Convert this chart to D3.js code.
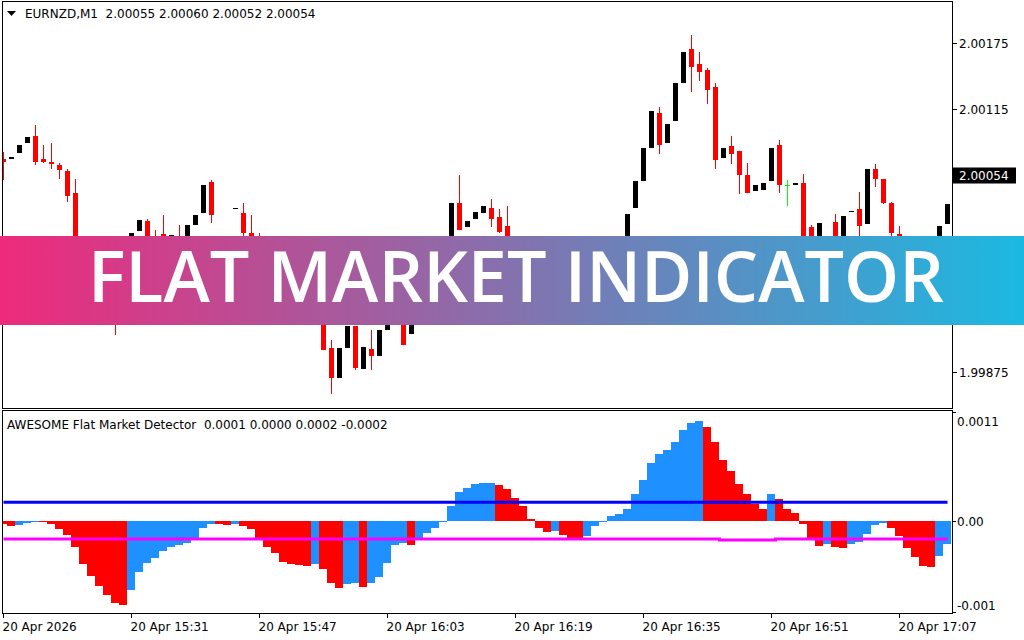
<!DOCTYPE html>
<html><head><meta charset="utf-8">
<script src="https://cdn.jsdelivr.net/npm/d3@7"></script>
<style>html,body{margin:0;padding:0;background:#fff;overflow:hidden}svg{display:block}</style>
</head><body><svg id="c" width="1024" height="640"></svg>
<script>
// ---------------- DATA ----------------
const chartTitle = "EURNZD,M1  2.00055 2.00060 2.00052 2.00054";
const indicatorTitle = "AWESOME Flat Market Detector  0.0001 0.0000 0.0002 -0.0002";
const bannerText = "FLAT MARKET INDICATOR";
const lastPrice = 2.00054;
const lastPriceLabel = "2.00054";

const priceTicks = [2.00175, 2.00115, 2.00055, 1.99995, 1.99935, 1.99875];
const timeTickIndex = [0, 16, 32, 48, 64, 80, 96, 112];
const timeTickLabels = ["20 Apr 2026", "20 Apr 15:31", "20 Apr 15:47", "20 Apr 16:03",
  "20 Apr 16:19", "20 Apr 16:35", "20 Apr 16:51", "20 Apr 17:07"];
const subTickLabels = ["0.0011", "0.00", "-0.001"];

const opens = [2.00069,2.00069,2.00075,2.00084,2.00090,2.00069,2.00067,2.00064,2.00058,2.00038,
1.99975,1.99960,1.99968,1.99945,1.99932,1.99925,1.99960,2.00004,2.00013,1.99998,
2.00001,1.99985,1.99998,1.99985,2.00009,2.00020,2.00048,1.99996,1.99985,2.00024,
2.00020,2.00002,1.99990,1.99972,1.99955,1.99945,1.99930,1.99940,1.99935,1.99928,
1.99945,1.99897,1.99870,1.99897,1.99917,1.99878,1.99896,1.99890,1.99913,1.99935,
1.99945,1.99910,1.99935,1.99950,1.99940,1.99960,1.99975,2.00029,2.00007,2.00015,
2.00020,2.00025,2.00016,2.00008,1.99985,1.99970,1.99960,1.99968,1.99955,1.99948,
1.99962,1.99950,1.99945,1.99958,1.99965,1.99972,1.99968,1.99978,1.99985,2.00025,
2.00049,2.00079,2.00111,2.00084,2.00104,2.00139,2.00170,2.00156,2.00150,2.00135,
2.00070,2.00081,2.00077,2.00055,2.00040,2.00041,2.00049,2.00082,2.00046,2.00046,
2.00047,2.00007,1.99985,1.99995,2.00012,1.99985,2.00021,2.00024,2.00010,2.00060,
2.00051,2.00029,2.00001,1.99985,1.99970,1.99960,1.99968,1.99960,2.00010];
const highs = [2.00076,2.00071,2.00082,2.00089,2.00100,2.00082,2.00084,2.00066,2.00060,2.00051,
1.99978,1.99970,1.99972,1.99950,1.99940,1.99962,2.00002,2.00014,2.00015,2.00005,
2.00018,2.00000,2.00009,2.00009,2.00018,2.00046,2.00050,1.99998,1.99990,2.00025,
2.00029,2.00018,2.00002,1.99978,1.99960,1.99950,1.99945,1.99948,1.99942,1.99950,
1.99950,1.99904,1.99897,1.99917,1.99917,1.99898,1.99913,1.99913,1.99935,1.99955,
1.99950,1.99935,1.99952,1.99955,1.99962,1.99978,2.00029,2.00055,2.00013,2.00021,
2.00026,2.00033,2.00024,2.00026,1.99990,1.99975,1.99972,1.99970,1.99960,1.99965,
1.99966,1.99955,1.99960,1.99968,1.99975,1.99976,1.99980,1.99988,2.00019,2.00049,
2.00079,2.00113,2.00117,2.00101,2.00139,2.00167,2.00182,2.00167,2.00152,2.00139,
2.00079,2.00090,2.00077,2.00066,2.00046,2.00047,2.00079,2.00087,2.00050,2.00047,
2.00056,2.00009,2.00011,1.99998,2.00019,2.00017,2.00022,2.00039,2.00060,2.00065,
2.00051,2.00030,2.00008,1.99990,1.99975,1.99972,1.99975,2.00008,2.00028];
const lows = [2.00050,2.00069,2.00075,2.00084,2.00064,2.00066,2.00060,2.00051,2.00030,1.99968,
1.99955,1.99956,1.99940,1.99926,1.99909,1.99922,1.99955,2.00004,1.99990,1.99980,
1.99978,1.99983,1.99980,1.99983,2.00009,2.00020,2.00011,1.99975,1.99970,2.00024,
1.99990,1.99975,1.99965,1.99950,1.99940,1.99925,1.99925,1.99928,1.99924,1.99924,
1.99895,1.99855,1.99870,1.99897,1.99877,1.99878,1.99877,1.99890,1.99913,1.99930,
1.99900,1.99910,1.99930,1.99935,1.99936,1.99955,1.99970,2.00005,2.00007,2.00015,
2.00020,2.00007,2.00002,1.99980,1.99965,1.99955,1.99956,1.99950,1.99944,1.99945,
1.99946,1.99940,1.99942,1.99955,1.99962,1.99964,1.99966,1.99975,1.99982,2.00025,
2.00049,2.00079,2.00074,2.00084,2.00104,2.00139,2.00130,2.00140,2.00119,2.00060,
2.00070,2.00065,2.00037,2.00038,2.00040,2.00041,2.00049,2.00038,2.00026,2.00046,
1.99985,1.99980,1.99982,1.99975,1.99976,1.99982,2.00021,1.99990,2.00010,2.00044,
2.00028,1.99990,1.99980,1.99965,1.99955,1.99955,1.99956,1.99958,2.00010];
const closes = [2.00067,2.00071,2.00082,2.00089,2.00067,2.00067,2.00065,2.00059,2.00036,1.99975,
1.99960,1.99968,1.99945,1.99930,1.99925,1.99960,2.00002,2.00014,1.99995,1.99985,
1.99985,2.00000,1.99985,2.00009,2.00018,2.00046,2.00018,1.99980,1.99975,2.00025,
2.00002,1.99980,1.99970,1.99955,1.99945,1.99930,1.99940,1.99932,1.99928,1.99945,
1.99895,1.99870,1.99897,1.99917,1.99879,1.99898,1.99890,1.99913,1.99935,1.99950,
1.99900,1.99935,1.99950,1.99940,1.99960,1.99975,2.00029,2.00005,2.00013,2.00021,
2.00026,2.00015,2.00003,1.99985,1.99970,1.99960,1.99968,1.99955,1.99948,1.99962,
1.99950,1.99945,1.99958,1.99965,1.99972,1.99968,1.99978,1.99985,2.00019,2.00049,
2.00079,2.00113,2.00082,2.00101,2.00139,2.00167,2.00153,2.00149,2.00132,2.00068,
2.00079,2.00074,2.00055,2.00038,2.00046,2.00047,2.00079,2.00046,2.00046,2.00047,
1.99990,1.99985,2.00011,1.99980,1.99980,2.00017,2.00022,2.00008,2.00060,2.00051,
2.00029,2.00002,1.99985,1.99970,1.99960,1.99968,1.99960,2.00008,2.00028];

// Flat market detector histogram values
const histValues = [-0.000036,-0.000055,-0.000044,-0.000022,-0.000010,-0.000015,-0.000030,-0.000084,-0.000154,-0.000280,
-0.000470,-0.000600,-0.000710,-0.000810,-0.000895,-0.000920,-0.000760,-0.000560,-0.000460,-0.000406,
-0.000330,-0.000280,-0.000267,-0.000238,-0.000183,-0.000077,-0.000033,-0.000029,-0.000040,-0.000029,
-0.000050,-0.000091,-0.000183,-0.000290,-0.000347,-0.000450,-0.000468,-0.000480,-0.000490,-0.000468,
-0.000530,-0.000676,-0.000730,-0.000687,-0.000680,-0.000720,-0.000676,-0.000610,-0.000457,-0.000260,
-0.000245,-0.000260,-0.000183,-0.000128,-0.000073,-0.000007,0.000164,0.000320,0.000360,0.000406,
0.000417,0.000417,0.000395,0.000350,0.000252,0.000164,0.000026,-0.000073,-0.000117,-0.000106,
-0.000150,-0.000183,-0.000183,-0.000160,-0.000050,-0.000007,0.000055,0.000077,0.000130,0.000296,
0.000450,0.000636,0.000735,0.000780,0.000866,0.000998,0.001075,0.001096,0.001030,0.000866,
0.000669,0.000548,0.000406,0.000296,0.000186,0.000130,0.000296,0.000241,0.000130,0.000088,
-0.000029,-0.000194,-0.000270,-0.000248,-0.000280,-0.000292,-0.000248,-0.000226,-0.000139,-0.000040,
-0.000018,-0.000073,-0.000160,-0.000292,-0.000400,-0.000490,-0.000500,-0.000380,-0.000248];
// bar colour per bar, as runs: b = rising (blue), r = falling (red)
const histColourRuns = [
  ["r", 2], ["b", 3], ["r", 11], ["b", 11], ["r", 2], ["b", 1], ["r", 9], ["b", 1],
  ["r", 3], ["b", 2], ["r", 1], ["b", 5], ["r", 1], ["b", 10], ["r", 7], ["b", 1],
  ["r", 3], ["b", 15], ["r", 8], ["b", 1], ["r", 6], ["b", 1], ["r", 2], ["b", 5],
  ["r", 6], ["b", 2]];

const upperLevel = 0.000208;
const lowerLevelSteps = [{from: 0, value: -0.000194}, {from: 90, value: -0.000205}, {from: 97, value: -0.000194}];

// ---------------- DRAW ----------------
const svg = d3.select("#c");
const FONT = "DejaVu Sans, Verdana, sans-serif";
const n = opens.length;
const idx = d3.range(n);
const histColours = histColourRuns.flatMap(([c, k]) => Array(k).fill(c));

const x = d3.scaleLinear().domain([0, n - 1]).range([3.5, 3.5 + 8 * (n - 1)]);
const yMain = d3.scaleLinear().domain([1.998423, 2.002124]).range([408, 2]);
const ySub = d3.scaleLinear().domain([-0.000995, 0.0011985]).range([612, 412]);

svg.append("rect").attr("width", 1024).attr("height", 640).attr("fill", "#fff");

const defs = svg.append("defs");
defs.append("clipPath").attr("id", "clipMain").append("rect").attr("x", 3).attr("y", 2).attr("width", 949).attr("height", 406);
defs.append("clipPath").attr("id", "clipSub").append("rect").attr("x", 3).attr("y", 412).attr("width", 949).attr("height", 201);
const grad = defs.append("linearGradient").attr("id", "bannerGrad").attr("x1", "0%").attr("x2", "100%").attr("y1", "0%").attr("y2", "0%");
grad.append("stop").attr("offset", "0%").attr("stop-color", "#EE2A7B");
grad.append("stop").attr("offset", "100%").attr("stop-color", "#1BB9E1");

// candles
const candleColour = i => closes[i] > opens[i] ? "#000000" : (closes[i] < opens[i] ? "#FF0000" : "#00FF00");
const gC = svg.append("g").attr("clip-path", "url(#clipMain)").attr("shape-rendering", "crispEdges");
gC.selectAll("rect.wick").data(idx).join("rect").attr("class", "wick")
  .attr("x", i => x(i) - 0.5).attr("width", 1)
  .attr("y", i => Math.round(yMain(highs[i])))
  .attr("height", i => Math.max(1, Math.round(yMain(lows[i])) - Math.round(yMain(highs[i]))))
  .attr("fill", candleColour);
gC.selectAll("rect.body").data(idx).join("rect").attr("class", "body")
  .attr("x", i => x(i) - 2.5).attr("width", 5)
  .attr("y", i => Math.round(yMain(Math.max(opens[i], closes[i]))))
  .attr("height", i => Math.max(1, Math.round(yMain(Math.min(opens[i], closes[i]))) - Math.round(yMain(Math.max(opens[i], closes[i])))))
  .attr("fill", candleColour);

// histogram
const gH = svg.append("g").attr("clip-path", "url(#clipSub)").attr("shape-rendering", "crispEdges");
gH.selectAll("rect").data(idx).join("rect")
  .attr("x", i => x(i) - 4.5).attr("width", 8)
  .attr("y", i => Math.round(Math.min(ySub(0), ySub(histValues[i]))))
  .attr("height", i => Math.max(1, Math.round(Math.abs(ySub(histValues[i]) - ySub(0)))))
  .attr("fill", i => histColours[i] === "b" ? "#1E90FF" : "#FF0000");

// level lines
const lowerAt = i => lowerLevelSteps.filter(s => s.from <= i).pop().value;
const gL = svg.append("g").attr("clip-path", "url(#clipSub)");
gL.append("path").datum(idx).attr("fill", "none").attr("stroke", "#0000FF").attr("stroke-width", 3)
  .attr("d", d3.line().x(i => x(i)).y(() => ySub(upperLevel)));
gL.append("path").datum(idx).attr("fill", "none").attr("stroke", "#FF00FF").attr("stroke-width", 3)
  .attr("d", d3.line().curve(d3.curveStep).x(i => x(i)).y(i => ySub(lowerAt(i))));

// frames
svg.append("rect").attr("x", 2.5).attr("y", 1.5).attr("width", 950).attr("height", 407)
  .attr("fill", "none").attr("stroke", "#000").attr("shape-rendering", "crispEdges");
svg.append("rect").attr("x", 2.5).attr("y", 410.5).attr("width", 950).attr("height", 203)
  .attr("fill", "none").attr("stroke", "#000").attr("shape-rendering", "crispEdges");

// price axis
const gP = svg.append("g").attr("font-family", FONT).attr("font-size", 12).attr("fill", "#000");
priceTicks.forEach(p => {
  const yy = Math.round(yMain(p)) + 0.5;
  gP.append("line").attr("x1", 953).attr("x2", 957).attr("y1", yy).attr("y2", yy).attr("stroke", "#000");
  gP.append("text").attr("x", 959).attr("y", yy + 4.5).text(p.toFixed(5));
});
// last price tag
const yLast = Math.round(yMain(lastPrice));
svg.append("rect").attr("x", 953).attr("y", yLast - 8.5).attr("width", 63).attr("height", 16).attr("fill", "#000");
svg.append("text").attr("x", 959).attr("y", yLast + 4).attr("font-family", FONT).attr("font-size", 12)
  .attr("fill", "#fff").text(lastPriceLabel);

// indicator axis
const subDomain = ySub.domain();
const subTickVals = [subDomain[1], 0, subDomain[0]];
const gS = svg.append("g").attr("font-family", FONT).attr("font-size", 12).attr("fill", "#000");
subTickVals.forEach((v, k) => {
  const yy = Math.round(ySub(v)) + 0.5;
  gS.append("line").attr("x1", 953).attr("x2", 956).attr("y1", yy).attr("y2", yy).attr("stroke", "#000");
  const ty = k === 0 ? yy + 13 : (k === 2 ? yy - 3 : yy + 4.5);
  gS.append("text").attr("x", 957).attr("y", ty).text(subTickLabels[k]);
});

// time axis
const gT = svg.append("g").attr("font-family", FONT).attr("font-size", 12).attr("fill", "#000");
timeTickIndex.forEach((ti, k) => {
  const xx = Math.round(x(ti) - 0.5) + 0.5;
  gT.append("line").attr("x1", xx).attr("x2", xx).attr("y1", 614).attr("y2", 618).attr("stroke", "#000");
  gT.append("text").attr("x", xx - 1).attr("y", 631).text(timeTickLabels[k]);
});

// headers
svg.append("path").attr("d", "M7,11 L16,11 L11.5,16 Z").attr("fill", "#000");
svg.append("text").attr("x", 25).attr("y", 18).attr("font-family", FONT).attr("font-size", 12)
  .style("white-space", "pre").attr("xml:space", "preserve").text(chartTitle);
svg.append("text").attr("x", 7).attr("y", 429).attr("font-family", FONT).attr("font-size", 12)
  .style("white-space", "pre").attr("xml:space", "preserve").text(indicatorTitle);

// banner
svg.append("rect").attr("x", 0).attr("y", 236).attr("width", 1024).attr("height", 89).attr("fill", "url(#bannerGrad)");
svg.append("text").attr("x", 88).attr("y", 302).attr("font-family", "Open Sans, Lato, sans-serif")
  .attr("font-weight", 600).attr("font-size", 70).attr("fill", "#fff")
  .attr("textLength", 856).attr("lengthAdjust", "spacingAndGlyphs").text(bannerText);
</script></body></html>
